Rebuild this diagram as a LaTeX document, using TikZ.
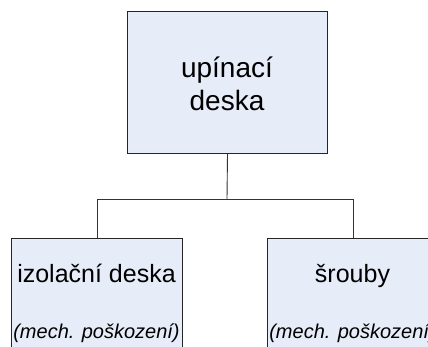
\documentclass[tikz,border=0pt]{standalone}
\usepackage{fontspec}
\setmainfont{Liberation Sans}
\begin{document}
\begin{tikzpicture}[x=1pt,y=-1pt,
  box/.style={draw=black!85, line width=1pt, fill=boxfill, inner sep=0pt, anchor=north west},
  wire/.style={draw=black!80, line width=0.9pt},
  toplabel/.style={align=center, font=\fontsize{28}{33}\selectfont, inner sep=0pt},
  mainlabel/.style={anchor=base, font=\fontsize{25}{30}\selectfont, inner sep=0pt},
  notelabel/.style={anchor=base, font=\fontsize{20}{24}\selectfont\itshape, inner sep=0pt}]
\definecolor{boxfill}{RGB}{230,236,248}
\useasboundingbox (0,0) rectangle (428,347);
\clip (0,0) rectangle (428,347);

% boxes
\node[box, minimum width=200pt, minimum height=142pt] (top) at (127,11) {};
\node[box, minimum width=171pt, minimum height=130pt] (left) at (11,238) {};
\node[box, minimum width=171pt, minimum height=130pt] (right) at (267,238) {};

% connectors
\coordinate (bus) at (227,199);
\draw[wire] (top.south) -- (bus);
\draw[wire] (left.north) |- (bus);
\draw[wire] (right.north) |- (bus);

% labels
\node[toplabel] (toptext) at (227,84) {upínací\\deska};
\node[mainlabel] (lefttext) at (96.5,283) {izolační deska};
\node[notelabel] (leftnote) at (96.5,338) {(mech. poškození)};
\node[mainlabel] (righttext) at (352.5,283) {šrouby};
\node[notelabel] (rightnote) at (352.5,338) {(mech. poškození)};
\end{tikzpicture}
\end{document}
